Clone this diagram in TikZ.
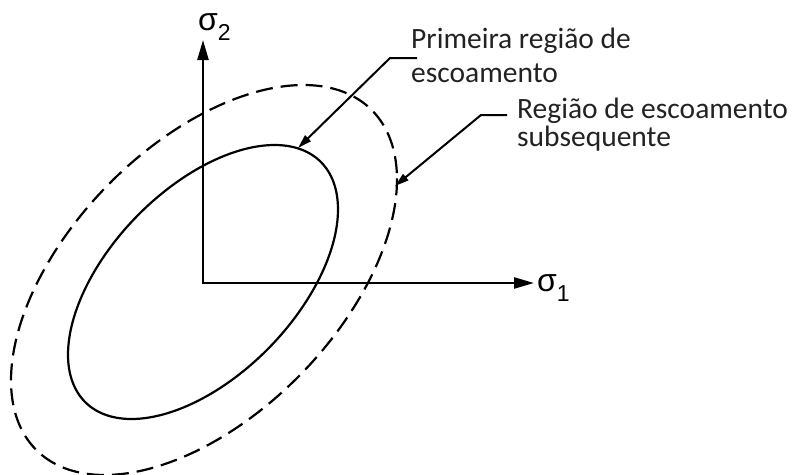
\documentclass[tikz,border=0pt]{standalone}
\usepackage{fontspec}
\setmainfont{Carlito}
\newfontfamily\greekfont{Liberation Sans}
\usetikzlibrary{arrows.meta}
\definecolor{txt}{HTML}{222222}
\tikzset{
  axis/.style={line width=2.4pt, -{Triangle[length=20pt,width=11pt]}},
  leader/.style={line width=2pt, -{Triangle[length=14pt,width=8pt]}},
  curve/.style={line width=2.2pt},
  dcurve/.style={line width=2.2pt, dash pattern=on 17pt off 8pt},
  lbl/.style={inner sep=0pt, anchor=base west, text=txt, align=left},
  glbl/.style={inner sep=0pt, anchor=base west, font=\greekfont\fontsize{32}{32}\selectfont}
}
\begin{document}
\begin{tikzpicture}[x=1pt,y=-1pt]
\useasboundingbox (0,0) rectangle (795,474);
% axes
\coordinate (O) at (203,283);
\coordinate (Ytip) at (203,40);
\coordinate (Xtip) at (534,283);
\draw[axis] (203,284.2) -- (Ytip);
\draw[axis] (201.8,283) -- (Xtip);
\node[glbl] (s2) at (198,30) {σ\raisebox{-10pt}{\fontsize{23}{23}\selectfont 2}};
\node[glbl] (s1) at (537,291) {σ\raisebox{-10pt}{\fontsize{23}{23}\selectfont 1}};
% inner yield surface (ellipse centred on the origin)
\draw[curve] plot[domain=0:360, samples=120, smooth cycle]
  ({203+135*cos(\x)}, {282-137*cos(\x-58)});
% outer (subsequent) yield surface
\draw[dcurve] plot[domain=0:360, samples=160, smooth cycle]
  ({204+193*cos(\x)}, {280-195*cos(\x-59)});
% labels
\node[lbl, font=\fontsize{29.5}{34}\selectfont] (l1) at (411,82) {Primeira região de\\escoamento};
\node[lbl, font=\fontsize{29.5}{28}\selectfont] (l2) at (517,146) {Região de escoamento\\subsequente};
\coordinate (k1) at (417,58);
\coordinate (j1) at (390,58);
\coordinate (t1) at (298,148);
\coordinate (k2) at (507,115);
\coordinate (j2) at (481,115);
\coordinate (t2) at (395,186);
\draw[leader] (k1) -- (j1) -- (t1);
\draw[leader] (k2) -- (j2) -- (t2);
\end{tikzpicture}
\end{document}
